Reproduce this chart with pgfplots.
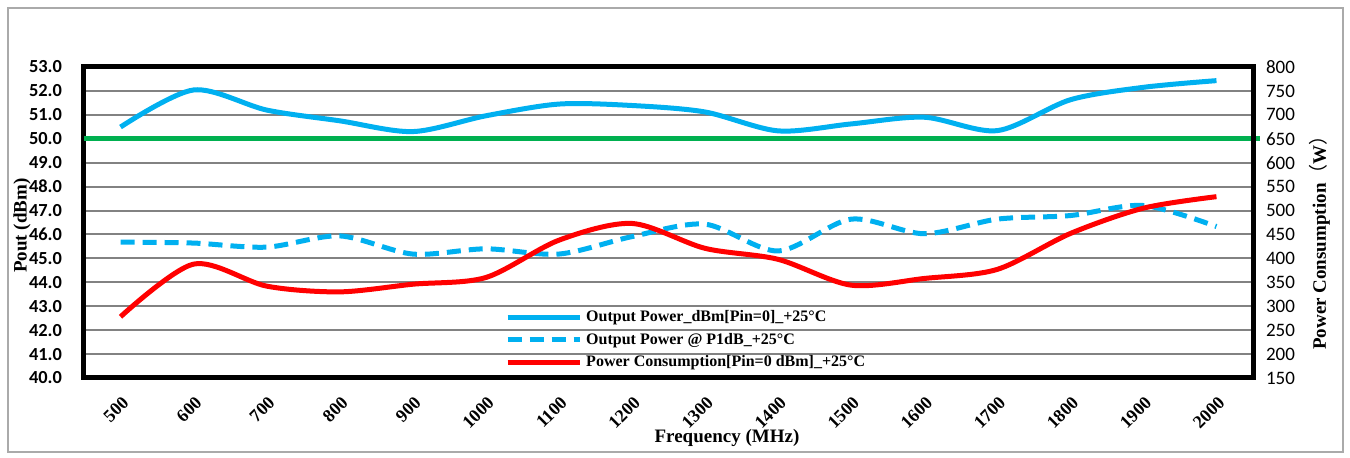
\documentclass[border=0pt]{standalone}
\usepackage{fontspec}
\setmainfont{Liberation Serif}
\newfontfamily\carlito{Carlito}
\newfontfamily\cjk{Noto Sans CJK SC}
\usepackage{pgfplots}
\pgfplotsset{compat=1.18}
\definecolor{opblue}{RGB}{0,176,240}
\definecolor{pcred}{RGB}{255,0,0}
\definecolor{lgreen}{RGB}{0,176,80}
\definecolor{gridgray}{RGB}{130,130,130}
\definecolor{framegray}{RGB}{170,170,170}
\begin{document}
\begin{tikzpicture}
\useasboundingbox (-42pt,-40pt) rectangle (633pt,189pt);
\draw[framegray, line width=1pt] (-38pt,-37pt) rectangle (629.5pt,185pt);
\begin{axis}[
  at={(0pt,0pt)}, anchor=south west,
  scale only axis, width=584.5pt, height=155.5pt,
  xmin=-0.5, xmax=15.5, ymin=40, ymax=53,
  xtick={0,...,15},
  xticklabels={500,600,700,800,900,1000,1100,1200,1300,1400,1500,1600,1700,1800,1900,2000},
  ytick={40,41,...,53},
  ymajorgrids, grid style={gridgray, line width=1pt},
  major tick length=0pt,
  axis line style={line width=2.5pt, black},
  /pgf/number format/assume math mode=true,
  yticklabel style={font=\carlito\bfseries\fontsize{9.2}{11}\selectfont, xshift=-7.5pt,
    /pgf/number format/.cd, fixed, fixed zerofill, precision=1},
  xticklabel style={font=\bfseries\fontsize{9}{11}\selectfont, rotate=45, anchor=north east, yshift=-3pt, xshift=-2.5pt},
  xlabel={\textbf{Frequency (MHz)}},
  xlabel style={at={(axis description cs:0.55,-0.193)}, anchor=center, font=\fontsize{9.5}{11}\selectfont},
  ylabel={\textbf{Pout (dBm)}},
  ylabel style={at={(axis description cs:-0.053,0.49)}, anchor=center, font=\fontsize{9.5}{11}\selectfont},
  clip=false,
]
\addplot[lgreen, line width=2.5pt] coordinates {(-0.5,50) (15.6,50)};
\addplot[opblue, line width=2.5pt, smooth, tension=0.5] coordinates {
(0,50.49) (1,52.04) (2,51.2) (3,50.75) (4,50.3) (5,50.96) (6,51.45) (7,51.39)
(8,51.12) (9,50.33) (10,50.62) (11,50.9) (12,50.34) (13,51.63) (14,52.15) (15,52.43)};
\addplot[opblue, line width=2.5pt, smooth, tension=0.5, dash pattern=on 7pt off 4pt] coordinates {
(0,45.68) (1,45.64) (2,45.47) (3,45.94) (4,45.18) (5,45.4) (6,45.18) (7,45.91)
(8,46.43) (9,45.31) (10,46.64) (11,46.03) (12,46.64) (13,46.79) (14,47.21) (15,46.33)};
\end{axis}
\begin{axis}[
  at={(0pt,0pt)}, anchor=south west,
  scale only axis, width=584.5pt, height=155.5pt,
  xmin=-0.5, xmax=15.5, ymin=150, ymax=800,
  ytick={150,200,...,800},
  axis x line=none,
  axis y line*=right,
  y axis line style={line width=2.5pt, black},
  major tick length=0pt,
  /pgf/number format/assume math mode=true,
  yticklabel style={font=\carlito\fontsize{9.5}{11}\selectfont, xshift=3pt},
  ylabel={\textbf{Power Consumption}{\cjk （}\textbf{W}{\cjk ）}},
  ylabel style={at={(axis description cs:1.057,0.45)}, anchor=center, rotate=0, font=\fontsize{9.5}{11}\selectfont},
  legend style={at={(axis description cs:0.36,0.232)}, anchor=north west, draw=none, fill=none,
    font=\bfseries\fontsize{8}{10}\selectfont, inner sep=0pt, row sep=0.3pt},
  legend cell align=left,
  legend image code/.code={\draw[#1] (0pt,0pt) -- (36pt,0pt);},
]
\addlegendimage{opblue, line width=2.5pt}
\addlegendentry{Output Power\_dBm[Pin=0]\_+25°C}
\addlegendimage{opblue, line width=2.5pt, dash pattern=on 7pt off 4pt}
\addlegendentry{Output Power @ P1dB\_+25°C}
\addplot[pcred, line width=2.5pt, smooth, tension=0.5] coordinates {
(0,278) (1,388) (2,342) (3,330) (4,346) (5,360) (6,438) (7,473)
(8,421) (9,398) (10,344) (11,358) (12,377) (13,452) (14,505) (15,529)};
\addlegendentry{Power Consumption[Pin=0 dBm]\_+25°C}
\end{axis}
\end{tikzpicture}
\end{document}
